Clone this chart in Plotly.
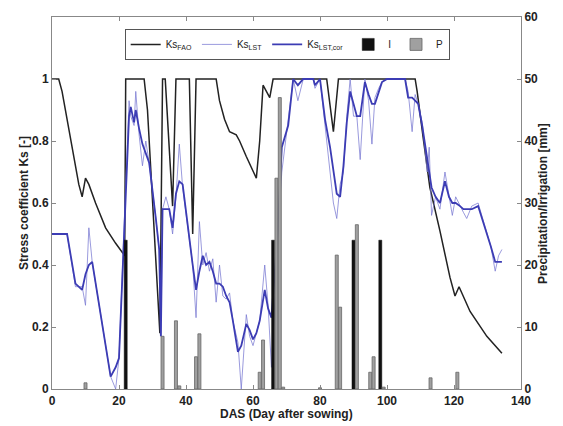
import plotly.graph_objects as go

# ---- Data ----
fao_days = [0, 2, 3, 4, 6, 8, 9, 10, 11, 13, 16, 19, 21.7, 22, 27.5, 28.5, 32.2, 33, 33.8, 36, 37, 41, 42, 43,
            49, 50, 51.5, 53, 55, 56, 58, 60, 61, 62, 63, 64, 65, 66, 82, 84, 85.5, 108.4, 109, 110.8, 112.8,
            115.8, 118.8, 120.3, 121.5, 124.8, 129.8, 134.3]
ks_fao = [1.0, 1.0, 0.96, 0.90, 0.77, 0.66, 0.62, 0.68, 0.66, 0.60, 0.52, 0.47, 0.43, 1.0, 1.0, 0.90, 0.18, 1.0, 1.0,
          0.59, 1.0, 1.0, 0.50, 1.0, 1.0, 0.93, 0.87, 0.83, 0.82, 0.80, 0.75, 0.70, 0.68, 0.80, 0.98, 0.96,
          0.94, 1.0, 1.0, 0.83, 1.0, 1.0, 0.96, 0.81, 0.65, 0.51, 0.36, 0.30, 0.33, 0.25, 0.17, 0.115]

lst_days = [0, 4.5, 7, 9, 10, 11, 12, 17.5, 19, 20, 23, 23.5, 24.5, 25, 26, 27, 28, 29, 31, 32, 32.5, 33, 34,
            35, 36, 37, 38, 39, 42, 43, 44, 45, 46, 47, 48, 49, 50, 51, 52, 53, 54, 55.5, 56.5, 58, 59, 60,
            61, 62, 63.5, 64.5, 65.5, 67, 68, 68.6, 70.5, 72, 73.4, 75, 78, 78.5, 80, 81.5, 83, 84, 85, 86,
            87, 88, 89, 90, 91, 92, 93.4, 94.5, 95.5, 96.4, 97.5, 98.5, 100, 105.4, 106.3, 107.5, 108.4,
            109.3, 110.5, 112, 112.6, 113.3, 114.5, 115.8, 117.3, 118.5, 119.5, 120.5, 121.8, 122.8, 123.8,
            125.3, 127.2, 129, 131, 132.3, 133.3, 134.3]
ks_lst_cor = [0.50, 0.50, 0.34, 0.32, 0.37, 0.40, 0.41, 0.04, 0.07, 0.10, 0.88, 0.91, 0.86, 0.90, 0.84, 0.79,
              0.76, 0.73, 0.55, 0.45, 0.17, 0.58, 0.58, 0.58, 0.52, 0.63, 0.67, 0.66, 0.40, 0.32, 0.38, 0.43,
              0.40, 0.41, 0.38, 0.34, 0.34, 0.33, 0.30, 0.28, 0.22, 0.12, 0.14, 0.21, 0.19, 0.16, 0.18, 0.22,
              0.32, 0.26, 0.23, 0.45, 0.65, 0.78, 0.85, 1.0, 0.98, 1.0, 1.0, 0.98, 1.0, 0.87, 0.78, 0.70,
              0.63, 0.62, 0.72, 0.86, 0.96, 0.92, 0.88, 0.88, 0.99, 0.95, 0.92, 0.92, 0.96, 0.99, 1.0, 1.0,
              0.94, 0.94, 0.93, 0.92, 0.85, 0.75, 0.70, 0.65, 0.62, 0.60, 0.67, 0.62, 0.60, 0.60, 0.59, 0.58,
              0.58, 0.58, 0.59, 0.53, 0.46, 0.41, 0.41, 0.41]
ks_lst = [0.50, 0.50, 0.33, 0.33, 0.27, 0.52, 0.41, 0.04, 0.0, 0.10, 0.93, 0.88, 0.85, 0.96, 0.82, 0.72,
          0.80, 0.73, 0.55, 0.45, 0.17, 0.58, 0.62, 0.58, 0.50, 0.62, 0.79, 0.65, 0.40, 0.23, 0.54, 0.40,
          0.44, 0.38, 0.42, 0.28, 0.40, 0.30, 0.29, 0.31, 0.22, 0.15, 0.0, 0.24, 0.17, 0.14, 0.18, 0.22,
          0.40, 0.27, 0.07, 0.40, 0.60, 0.70, 0.86, 1.0, 0.93, 1.0, 1.0, 0.97, 1.0, 0.85, 0.72, 0.60,
          0.55, 0.66, 0.70, 0.88, 1.0, 0.88, 0.88, 0.74, 1.0, 0.93, 0.79, 0.94, 0.97, 0.99, 1.0, 1.0,
          0.96, 0.83, 0.95, 0.92, 0.86, 0.70, 0.78, 0.56, 0.62, 0.58, 0.70, 0.63, 0.56, 0.62, 0.59, 0.57,
          0.55, 0.59, 0.60, 0.53, 0.46, 0.38, 0.43, 0.45]

irr_days = [22, 66, 90, 98]
irr_mm = [24, 24, 24, 24]

prec_days = [10, 33, 37, 38, 43, 44, 62, 63, 67, 68, 69, 80, 85, 86, 91, 95, 96, 99, 113, 121]
prec_mm = [1.0, 8.5, 11, 0.5, 5.2, 8.9, 2.7, 7.9, 34, 47, 0.3, 0.2, 21.6, 13.2, 26.5, 2.7, 5.2, 0.3, 1.8, 2.7]

x_ticks = [0, 20, 40, 60, 80, 100, 120, 140]
y_ticks = [0, 0.2, 0.4, 0.6, 0.8, 1]
y_tick_text = ["0", "0.2", "0.4", "0.6", "0.8", "1"]
y2_ticks = [0, 10, 20, 30, 40, 50, 60]

FAM = "Liberation Sans, Arial, sans-serif"

# ---- Figure ----
fig = go.Figure()
fig.add_trace(go.Scatter(x=fao_days, y=ks_fao, mode="lines", name="Ks<sub>FAO</sub>",
                         line=dict(color="#222222", width=1.5)))
fig.add_trace(go.Scatter(x=lst_days, y=ks_lst, mode="lines", name="Ks<sub>LST</sub>",
                         line=dict(color="rgba(120,120,210,0.75)", width=1)))
fig.add_trace(go.Scatter(x=lst_days, y=ks_lst_cor, mode="lines", name="Ks<sub>LST,cor</sub>",
                         line=dict(color="#3c3cb4", width=1.8)))
fig.add_trace(go.Bar(x=irr_days, y=irr_mm, name="I", yaxis="y2", width=0.9,
                     marker=dict(color="#111111", line=dict(color="#111111", width=0.5))))
fig.add_trace(go.Bar(x=prec_days, y=prec_mm, name="P", yaxis="y2", width=0.9,
                     marker=dict(color="#a0a0a0", line=dict(color="#666666", width=0.8))))

# page body has an 8px default margin: figure is sized/offset to compensate
fig.update_layout(
    width=547, height=418,
    margin=dict(l=44, r=34, t=9, b=37, autoexpand=False),
    paper_bgcolor="white", plot_bgcolor="white",
    font=dict(family=FAM, size=11, color="#222222"),
    barmode="overlay",
    showlegend=True,
    legend=dict(orientation="h", x=0.155, y=0.968, xanchor="left", yanchor="top",
                bordercolor="#555555", borderwidth=1, bgcolor="white",
                font=dict(family=FAM, size=10, color="#222222"),
                itemwidth=30, tracegroupgap=0),
    xaxis=dict(range=[0, 140], tickvals=x_ticks, ticktext=["<b>%d</b>" % t for t in x_ticks],
               showgrid=False, zeroline=False, automargin=False,
               showline=True, linecolor="#888888", linewidth=1, mirror="ticks",
               ticks="inside", ticklen=4, tickcolor="#888888", ticklabelstandoff=1,
               tickfont=dict(size=12, family=FAM, color="#222222")),
    yaxis=dict(range=[0, 1.2], tickvals=y_ticks, ticktext=["<b>%s</b>" % t for t in y_tick_text],
               showgrid=False, zeroline=False, automargin=False,
               showline=True, linecolor="#888888", linewidth=1,
               ticks="inside", ticklen=4, tickcolor="#888888",
               tickfont=dict(size=12, family=FAM, color="#222222")),
    yaxis2=dict(range=[0, 60], tickvals=y2_ticks, ticktext=["<b>%d</b>" % t for t in y2_ticks],
                overlaying="y", side="right", showgrid=False, zeroline=False, automargin=False,
                showline=True, linecolor="#888888", linewidth=1,
                ticks="inside", ticklen=4, tickcolor="#888888",
                tickfont=dict(size=12, family=FAM, color="#222222")),
    annotations=[
        dict(text="<b>DAS (Day after sowing)</b>", xref="paper", yref="paper",
             x=0.5, y=-0.068, xanchor="center", yanchor="middle", showarrow=False,
             font=dict(size=12, family=FAM, color="#222222")),
        dict(text="<b>Stress coefficient Ks [-]</b>", xref="paper", yref="paper",
             x=-0.079, y=0.5, textangle=-90, showarrow=False,
             font=dict(size=12, family=FAM, color="#222222")),
        dict(text="<b>Precipitation/Irrigation [mm]</b>", xref="paper", yref="paper",
             x=1.066, y=0.5, textangle=-90, showarrow=False,
             font=dict(size=12, family=FAM, color="#222222")),
    ],
)
fig.write_html("out.html")
